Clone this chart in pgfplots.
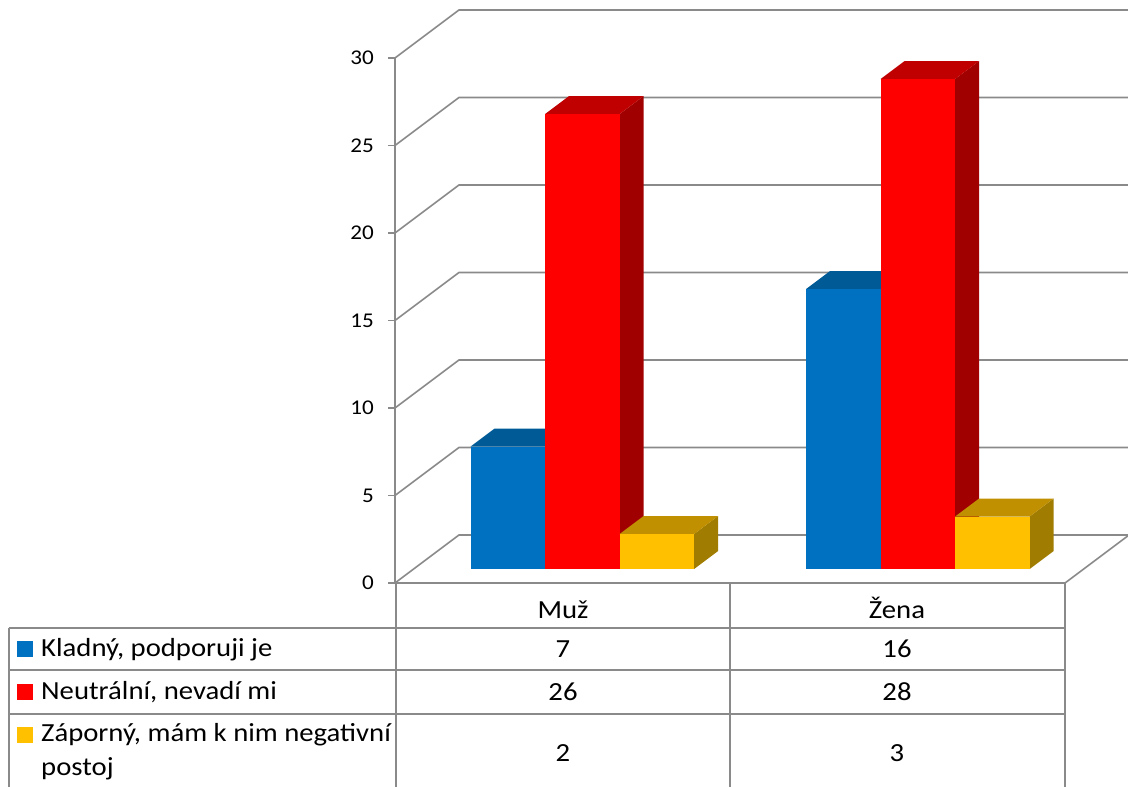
\documentclass[border=0pt]{standalone}
\usepackage{pgfplots}
\pgfplotsset{compat=1.18}
\usepackage{fontspec}
\setmainfont{Carlito}[FakeStretch=1.1]

\definecolor{gridgray}{HTML}{8A8A8A}
\definecolor{kladF}{HTML}{0070C0}
\definecolor{kladT}{HTML}{005A96}
\definecolor{kladS}{HTML}{004A7C}
\definecolor{neutF}{HTML}{FF0000}
\definecolor{neutT}{HTML}{C00000}
\definecolor{neutS}{HTML}{A00000}
\definecolor{zapF}{HTML}{FFC000}
\definecolor{zapT}{HTML}{C09000}
\definecolor{zapS}{HTML}{A07C00}

\newcommand\tickfont{\fontsize{21}{25}\selectfont}
\newcommand\tabfont{\fontsize{26.1}{31}\selectfont}

% one 3D column: #1 left edge, #2 right edge, #3 value, #4 colour prefix
\newcommand\cuboid[4]{%
  \addplot3[draw=none, fill=#4S, mark=none] coordinates {(#2,0.29,0) (#2,0.665,0) (#2,0.665,#3) (#2,0.29,#3)} -- cycle;
  \addplot3[draw=none, fill=#4T, mark=none] coordinates {(#1,0.29,#3) (#2,0.29,#3) (#2,0.665,#3) (#1,0.665,#3)} -- cycle;
  \addplot3[draw=none, fill=#4F, mark=none] coordinates {(#1,0.29,0) (#2,0.29,0) (#2,0.29,#3) (#1,0.29,#3)} -- cycle;
}

\begin{document}
\begin{tikzpicture}[gridline/.style={draw=gridgray, line width=1.6pt}]
\begin{axis}[
  x={(1pt,0pt)}, y={(64pt,48pt)}, z={(0pt,17.5pt)},
  xmin=0, xmax=670, ymin=0, ymax=1, zmin=0, zmax=30,
  hide axis, clip=false,
  anchor=origin, at={(0pt,0pt)},
]
% walls, floor and value axis
\pgfplotsinvokeforeach{0,5,10,15,20,25,30}{
  \draw[gridline] (axis cs:0,0,#1) -- (axis cs:0,1,#1) -- (axis cs:670,1,#1);
  \draw[gridline] (axis cs:0,0,#1) -- ++(-7pt,0pt);
  \node[anchor=east, inner sep=0pt, xshift=-21pt, font=\tickfont] at (axis cs:0,0,#1) {#1};
}
\draw[gridline] (axis cs:0,0,0) -- (axis cs:0,0,30);
\draw[gridline] (axis cs:0,0,0) -- (axis cs:670,0,0) -- (axis cs:670,1,0);

% Muž
\cuboid{57}{131.5}{7}{klad}
\cuboid{131.5}{206}{26}{neut}
\cuboid{206}{280.5}{2}{zap}
% Žena
\cuboid{392.5}{467}{16}{klad}
\cuboid{467}{541.5}{28}{neut}
\cuboid{541.5}{616}{3}{zap}
\end{axis}

% data table below the chart
\begin{scope}[shift={(-395pt,583pt)}, x=1pt, y=-1pt]
  \draw[gridline] (9,628) -- (1065,628);
  \draw[gridline] (9,670) -- (1065,670);
  \draw[gridline] (9,714) -- (1065,714);
  \draw[gridline] (9,792) -- (1065,792);
  \draw[gridline] (9,628) -- (9,792);
  \draw[gridline] (396,583) -- (396,792);
  \draw[gridline] (730,583) -- (730,792);
  \draw[gridline] (1065,583) -- (1065,792);

  \node[anchor=base, inner sep=0pt, font=\tabfont] at (563,619) {Muž};
  \node[anchor=base, inner sep=0pt, font=\tabfont] at (897,619) {Žena};

  \fill[kladF] (17,641) rectangle (33,657);
  \fill[neutF] (17,684) rectangle (33,700);
  \fill[zapF]  (17,727) rectangle (33,743);

  \node[anchor=base west, inner sep=0pt, font=\tabfont] at (41,657) {Kladný, podporuji je};
  \node[anchor=base west, inner sep=0pt, font=\tabfont] at (41,700) {Neutrální, nevadí mi};
  \node[anchor=base west, inner sep=0pt, font=\tabfont] at (41,742) {Záporný, mám k nim negativní};
  \node[anchor=base west, inner sep=0pt, font=\tabfont] at (41,776) {postoj};

  \node[anchor=base, inner sep=0pt, font=\tabfont] at (563,658) {7};
  \node[anchor=base, inner sep=0pt, font=\tabfont] at (897,658) {16};
  \node[anchor=base, inner sep=0pt, font=\tabfont] at (563,701) {26};
  \node[anchor=base, inner sep=0pt, font=\tabfont] at (897,701) {28};
  \node[anchor=base, inner sep=0pt, font=\tabfont] at (563,762) {2};
  \node[anchor=base, inner sep=0pt, font=\tabfont] at (897,762) {3};

  \pgfresetboundingbox
  \path[use as bounding box] (0,0) rectangle (1128,787);
\end{scope}
\end{tikzpicture}
\end{document}
